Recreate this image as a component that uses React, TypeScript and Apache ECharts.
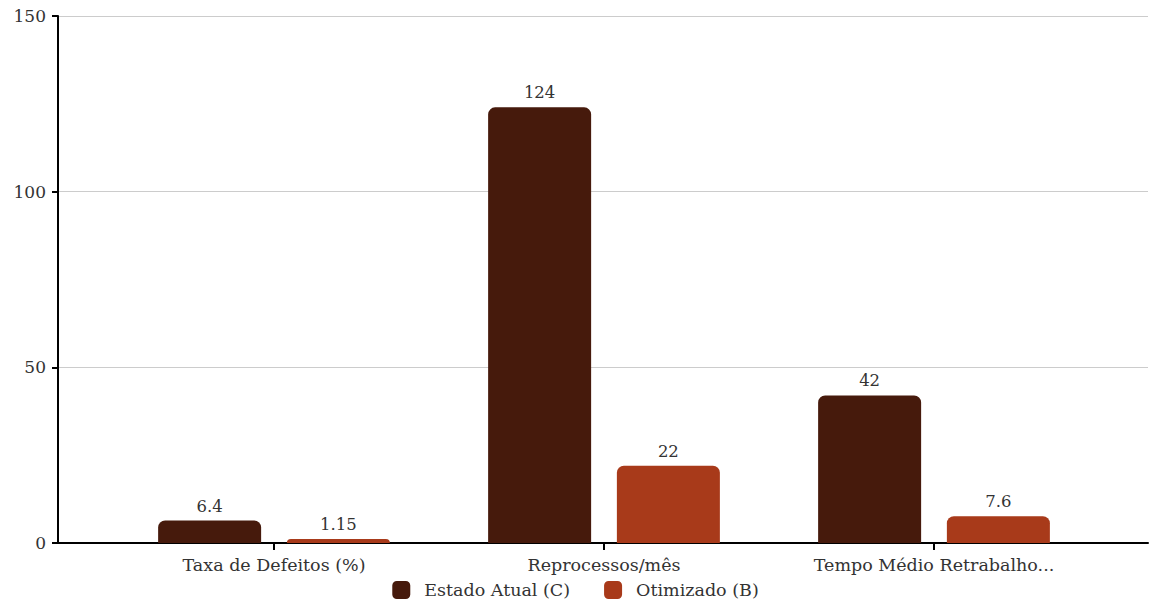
import React, { useEffect, useRef } from "react";
import * as echarts from "echarts";

const categories = ["Taxa de Defeitos (%)", "Reprocessos/mês", "Tempo Médio Retrabalho..."];
const estadoAtual = [6.4, 124, 42];
const otimizado = [1.15, 22, 7.6];
const yTicks = [0, 50, 100, 150];

const FONT = "'DejaVu Serif', serif";

export default function App() {
  const ref = useRef<HTMLDivElement>(null);
  useEffect(() => {
    document.body.style.margin = "0";
    const chart = echarts.init(ref.current!, null, { renderer: "svg" });
    chart.setOption({
      animation: false,
      textStyle: { fontFamily: FONT },
      legend: {
        bottom: -3,
        left: "center",
        icon: "roundRect",
        itemWidth: 18,
        itemHeight: 18,
        itemGap: 34,
        textStyle: { fontFamily: FONT, fontSize: 17.5, color: "#333", padding: [0, 0, 0, 9] },
        data: ["Estado Atual (C)", "Otimizado (B)"],
      },
      grid: [
        { left: 58, right: 3, top: 16, bottom: 58 },
        { left: 109, right: 52, top: 16, bottom: 58 },
      ],
      xAxis: [
        {
          gridIndex: 0,
          type: "value",
          min: 0,
          max: 1,
          axisLine: { show: true, lineStyle: { color: "#000", width: 2 } },
          axisTick: { show: false },
          axisLabel: { show: false },
          splitLine: { show: false },
        },
        {
          gridIndex: 1,
          type: "category",
          data: categories,
          axisLine: { show: false },
          axisTick: { show: true, alignWithLabel: true, length: 7, lineStyle: { color: "#000", width: 2 } },
          axisLabel: { fontFamily: FONT, fontSize: 17.5, color: "#333", margin: 13 },
        },
      ],
      yAxis: [
        {
          gridIndex: 0,
          type: "value",
          min: 0,
          max: yTicks[yTicks.length - 1],
          interval: 50,
          axisLine: { show: true, lineStyle: { color: "#000", width: 2 } },
          axisTick: { show: true, length: 6, lineStyle: { color: "#000", width: 2 } },
          axisLabel: { fontFamily: FONT, fontSize: 17, color: "#333", margin: 12 },
          splitLine: { show: true, lineStyle: { color: "#cccccc", width: 1 } },
        },
        {
          gridIndex: 1,
          type: "value",
          min: 0,
          max: yTicks[yTicks.length - 1],
          interval: 50,
          show: false,
        },
      ],
      series: [
        {
          name: "Estado Atual (C)",
          type: "bar",
          xAxisIndex: 1,
          yAxisIndex: 1,
          data: estadoAtual,
          barWidth: 103,
          barGap: "25%",
          itemStyle: { color: "#461a0c", borderRadius: [7, 7, 0, 0] },
          label: { show: true, position: "top", fontFamily: FONT, fontSize: 16.5, color: "#333", distance: 6 },
        },
        {
          name: "Otimizado (B)",
          type: "bar",
          xAxisIndex: 1,
          yAxisIndex: 1,
          data: otimizado,
          barWidth: 103,
          barGap: "25%",
          itemStyle: { color: "#a83a1a", borderRadius: [7, 7, 0, 0] },
          label: { show: true, position: "top", fontFamily: FONT, fontSize: 16.5, color: "#333", distance: 6 },
        },
      ],
    });
    return () => chart.dispose();
  }, []);
  return <div ref={ref} style={{ width: 1151, height: 601 }} />;
}
